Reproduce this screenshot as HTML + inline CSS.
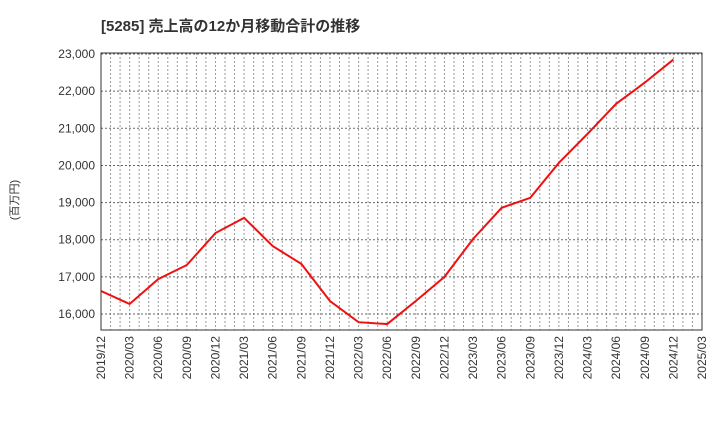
<!DOCTYPE html>
<html><head><meta charset="utf-8"><style>
body{margin:0;background:#fff;font-family:"Liberation Sans","Noto Sans CJK JP",sans-serif;}
</style></head><body>
<svg width="720" height="440" xmlns="http://www.w3.org/2000/svg">
<text x="101" y="31" font-size="15" font-weight="bold" fill="#333" font-family="Liberation Sans,Noto Sans CJK JP,sans-serif">[5285]  売上高の12か月移動合計の推移</text>
<text transform="translate(18,200) rotate(-90)" font-size="11" fill="#333" text-anchor="middle" font-family="Liberation Sans,Noto Sans CJK JP,sans-serif">(百万円)</text>
<g id="grid"></g><g id="axes"></g>
<polyline id="line" fill="none" stroke="#ee1111" stroke-width="2"/>
<rect x="101" y="53" width="601" height="277" fill="none" stroke="#333" stroke-width="1"/>
</svg>
<script>
const categories=["2019/12","2020/03","2020/06","2020/09","2020/12","2021/03","2021/06","2021/09","2021/12","2022/03","2022/06","2022/09","2022/12","2023/03","2023/06","2023/09","2023/12","2024/03","2024/06","2024/09","2024/12"];
const values=[16620,16270,16940,17320,18180,18590,17830,17350,16350,15780,15730,16350,17000,18020,18860,19130,20070,20850,21660,22230,22850];
const xTickLabels=["2019/12","2020/03","2020/06","2020/09","2020/12","2021/03","2021/06","2021/09","2021/12","2022/03","2022/06","2022/09","2022/12","2023/03","2023/06","2023/09","2023/12","2024/03","2024/06","2024/09","2024/12","2025/03"];
const yTicks=[16000,17000,18000,19000,20000,21000,22000,23000];
const NS="http://www.w3.org/2000/svg";
const L=101,R=702,T=53,B=330,nQ=21;
const yMax=23027,yMin=15570;
const y=v=>T+(yMax-v)/(yMax-yMin)*(B-T);
const xq=i=>L+i*(R-L)/nQ;
const grid=document.getElementById('grid'),axes=document.getElementById('axes');
for(let m=1;m<nQ*3;m++){
 const l=document.createElementNS(NS,'line');const x=L+m*(R-L)/(nQ*3);
 l.setAttribute('x1',x);l.setAttribute('x2',x);l.setAttribute('y1',T);l.setAttribute('y2',B);
 l.setAttribute('stroke','#999');l.setAttribute('stroke-dasharray','2,2');
 
 
 grid.appendChild(l);}
yTicks.forEach(v=>{
 const l=document.createElementNS(NS,'line');
 l.setAttribute('x1',L);l.setAttribute('x2',R);l.setAttribute('y1',y(v));l.setAttribute('y2',y(v));
 l.setAttribute('stroke','#666');l.setAttribute('stroke-dasharray','2,2');
 
 
 grid.appendChild(l);
 const t=document.createElementNS(NS,'text');
 t.setAttribute('x',L-6);t.setAttribute('y',y(v)+4);t.setAttribute('text-anchor','end');
 t.setAttribute('font-size','12');t.setAttribute('fill','#333');
 t.textContent=v.toLocaleString('en-US');
 
 
 axes.appendChild(t);});
xTickLabels.forEach((s,i)=>{
 const t=document.createElementNS(NS,'text');const x=xq(i);
 t.setAttribute('transform','translate('+(x+4)+','+(B+6)+') rotate(-90)');
 t.setAttribute('text-anchor','end');t.setAttribute('font-size','12');t.setAttribute('fill','#333');
 t.textContent=s;
 
 
 axes.appendChild(t);});
document.getElementById('line').setAttribute('points',values.map((v,i)=>xq(i)+','+y(v)).join(' '));
</script>
</body></html>
